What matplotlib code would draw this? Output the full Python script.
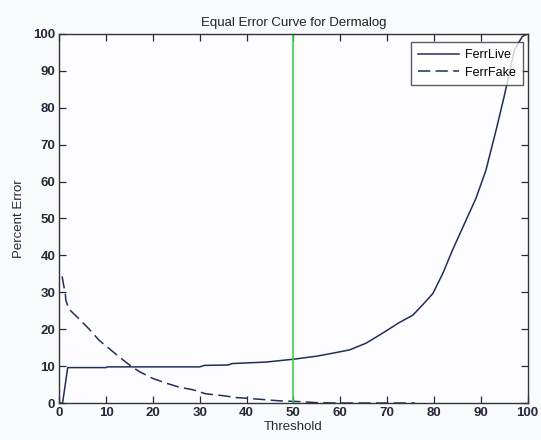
import matplotlib
matplotlib.use("Agg")
import matplotlib.pyplot as plt

plt.rcParams['font.family'] = ['Liberation Sans', 'DejaVu Sans']

live_x = [0.0, 0.7, 1.8, 10.0, 10.2, 30.0, 31.0, 36.0, 37.0, 44.2, 50.2, 55.0, 58.4, 62.0, 65.5,
          69.0, 72.6, 75.5, 77.6, 79.8, 81.9, 84.0, 86.5, 89.0, 91.1, 93.3, 95.0, 96.1, 97.2,
          98.9, 100.0]
live_y = [0.0, 0.0, 9.6, 9.6, 9.8, 9.8, 10.2, 10.3, 10.7, 11.1, 11.9, 12.7, 13.5, 14.4, 16.2,
          18.9, 21.8, 23.8, 26.6, 29.7, 35.1, 41.5, 48.5, 55.5, 63.0, 74.0, 83.0, 89.3, 95.7,
          99.3, 100.0]

fake_x = [0.6, 1.3, 1.4, 2.1, 4.3, 6.4, 8.5, 10.7, 12.8, 15.0, 17.1, 19.9, 22.8, 25.6, 28.5,
          31.3, 34.9, 37.7, 41.0, 44.0, 47.0, 51.0, 55.0, 60.0, 70.0, 76.0]
fake_y = [34.3, 29.4, 27.8, 25.4, 22.7, 20.0, 17.0, 14.7, 12.5, 10.3, 8.5, 6.7, 5.4, 4.3, 3.6,
          2.5, 2.0, 1.5, 1.2, 0.9, 0.6, 0.4, 0.1, 0.0, 0.0, 0.0]

eer_threshold = 50
x_ticks = list(range(0, 101, 10))
y_ticks = list(range(0, 101, 10))

bg = '#f9fafc'
fig = plt.figure(figsize=(5.41, 4.40), dpi=100, facecolor=bg)
ax = fig.add_axes([0.1096, 0.084, 0.8655, 0.839], facecolor='#fdfdff')

line_col = '#1f2f5a'
ax.plot(live_x, live_y, color=line_col, lw=1.1, label='FerrLive')
ax.plot(fake_x, fake_y, color=line_col, lw=1.1, dashes=(8, 3.5), label='FerrFake')
ax.axvline(eer_threshold, color='#3ccf4e', lw=1.2)

ax.set_xlim(0, 100)
ax.set_ylim(0, 100)
ax.set_xticks(x_ticks)
ax.set_yticks(y_ticks)
ax.tick_params(direction='in', length=5, top=True, right=True, labelsize=9.5,
               colors='#222a3a', width=0.9, pad=3)
for lab in ax.get_xticklabels() + ax.get_yticklabels():
    lab.set_fontweight('bold')
for s in ax.spines.values():
    s.set_color('#333333')
    s.set_linewidth(1.0)

ax.set_title('Equal Error Curve for Dermalog', fontsize=9.5, color='#222222', pad=6)
ax.set_xlabel('Threshold', fontsize=9.5, color='#222a3a', labelpad=1)
ax.set_ylabel('Percent Error', fontsize=9.5, color='#222a3a', labelpad=6)

leg = ax.legend(loc='upper right', bbox_to_anchor=(0.990, 0.978), fontsize=9,
                frameon=True, fancybox=False, edgecolor='#333333', borderaxespad=0.0,
                handlelength=3.3, handletextpad=0.5, borderpad=0.55, labelspacing=0.45)
leg.get_frame().set_linewidth(1.0)
leg.get_frame().set_facecolor('white')

fig.savefig('out.png', dpi=100, facecolor=bg)
